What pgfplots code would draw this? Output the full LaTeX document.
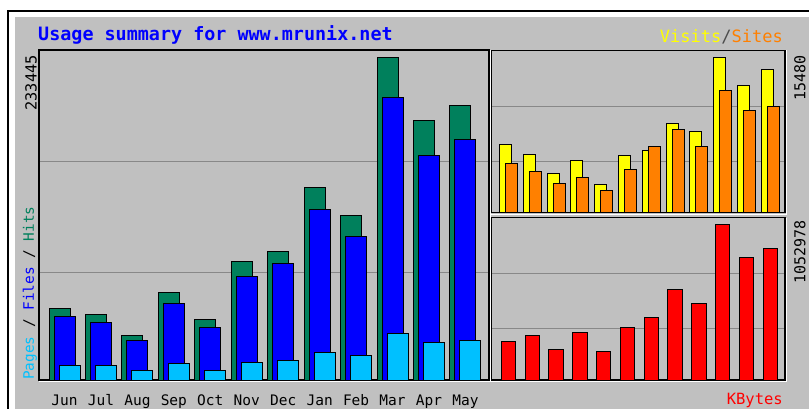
\documentclass[border=0pt]{standalone}
\usepackage{fontspec}
\setmonofont{DejaVu Sans Mono}
\usepackage{pgfplots}
\usepackage{pgfplotstable}
\pgfplotsset{compat=1.18}
\definecolor{hitc}{HTML}{00805C}
\definecolor{filec}{HTML}{0000FF}
\definecolor{pagec}{HTML}{00C0FF}
\definecolor{visitc}{HTML}{FFFF00}
\definecolor{sitec}{HTML}{FF8000}
\definecolor{kbc}{HTML}{FF0000}
\definecolor{bgc}{HTML}{C0C0C0}
\definecolor{gridc}{HTML}{888888}
\definecolor{titlec}{HTML}{0000FF}

\pgfplotstableread{
m hits files pages visits sites kbytes
0 52085 46298 10851 6813 4921 261225
1 47527 41740 10851 5817 4124 303750
2 32553 28936 7234 3925 2859 207225
3 63442 55485 12081 5220 3486 324000
4 43910 38340 7234 2829 2191 195750
5 85577 75016 13021 5678 4253 357750
6 93319 84131 14251 6176 6614 423225
7 139616 123195 20038 8836 8238 614250
8 118854 103663 17579 8039 6614 517725
9 233445 204722 33494 15480 12153 1052978
10 187361 162258 26983 12621 10131 828225
11 198212 173833 28936 14215 10559 891000
}\datatable

\pgfplotsset{
  panel/.style={
    anchor=south west, scale only axis,
    ymin=0,
    ymajorgrids, grid style={gridc, line width=1pt},
    yticklabels={}, major tick length=0,
    scaled y ticks=false, scaled x ticks=false,
    axis line style={black, line width=1.2pt},
    ybar,
    every axis plot/.append style={draw=black, line width=1pt},
    clip=false,
  }
}

\begin{document}
\begin{tikzpicture}
\useasboundingbox (0,0) rectangle (809pt,-409pt);
\fill[white] (0,0) rectangle (809pt,-409pt);
\draw[black, line width=1.2pt] (8pt,-409pt) -- (8pt,-11pt) -- (809pt,-11pt);
\fill[bgc] (15pt,-17pt) rectangle (809pt,-409pt);

% main panel
\begin{axis}[panel,
  at={(39pt,-380pt)},
  width=450pt, height=330pt,
  xmin=-0.6996, xmax=11.646, ymax=238722,
  ytick={77621,157919},
  xtick={0,...,11},
  xticklabels={Jun,Jul,Aug,Sep,Oct,Nov,Dec,Jan,Feb,Mar,Apr,May},
  xticklabel style={font=\ttfamily\fontsize{14.5}{14.5}\selectfont, anchor=base, yshift=-25pt},
  bar width=21pt,
]
\addplot[fill=hitc, bar shift=-5pt] table[x=m,y=hits]{\datatable};
\addplot[fill=filec, bar shift=0pt] table[x=m,y=files]{\datatable};
\addplot[fill=pagec, bar shift=5pt] table[x=m,y=pages]{\datatable};
\end{axis}

% visits / sites panel
\begin{axis}[panel,
  at={(491pt,-212.7pt)},
  width=294pt, height=162pt,
  xmin=-0.735, xmax=11.618, ymax=16135,
  ytick={5080,10627},
  xtick=\empty,
  bar width=12pt,
]
\addplot[fill=visitc, bar shift=-3pt] table[x=m,y=visits]{\datatable};
\addplot[fill=sitec, bar shift=3pt] table[x=m,y=sites]{\datatable};
\end{axis}

% kbytes panel
\begin{axis}[panel,
  at={(491pt,-380pt)},
  width=294pt, height=162.5pt,
  xmin=-0.735, xmax=11.618, ymax=1096875,
  ytick={351000,722250},
  xtick=\empty,
  bar width=14.5pt,
]
\addplot[fill=kbc, bar shift=0pt] table[x=m,y=kbytes]{\datatable};
\end{axis}

% bevel highlights
\draw[white, line width=1pt] (490pt,-50pt) -- (490pt,-381.5pt) -- (39pt,-381.5pt);
\draw[white, line width=1pt] (786pt,-50pt) -- (786pt,-214.5pt) -- (491pt,-214.5pt);
\draw[white, line width=1pt] (786pt,-217.5pt) -- (786pt,-381.5pt) -- (491pt,-381.5pt);

% texts
\node[anchor=base west, inner sep=0pt, text=titlec, font=\ttfamily\bfseries\fontsize{18.4}{18.4}\selectfont] at (38pt,-40.7pt) {Usage summary for www.mrunix.net};
\node[anchor=base east, inner sep=0pt, font=\ttfamily\fontsize{17}{17}\selectfont] at (783pt,-43pt) {\textcolor{visitc}{Visits}\textcolor{black!70}{/}\textcolor{sitec}{Sites}};
\node[rotate=90, anchor=east, inner sep=0pt, font=\ttfamily\fontsize{15.3}{15.3}\selectfont] at (31pt,-55pt) {233445};
\node[rotate=90, anchor=west, inner sep=0pt, font=\ttfamily\fontsize{14.4}{14.4}\selectfont] at (30pt,-380pt) {\textcolor{pagec}{Pages}\ \textcolor{black}{/}\ \textcolor{filec}{Files}\ \textcolor{black}{/}\ \textcolor{hitc}{Hits}};
\node[rotate=90, anchor=east, inner sep=0pt, font=\ttfamily\fontsize{15}{15}\selectfont] at (800pt,-55pt) {15480};
\node[rotate=90, anchor=east, inner sep=0pt, font=\ttfamily\fontsize{15}{15}\selectfont] at (800pt,-220pt) {1052978};
\node[anchor=base east, inner sep=0pt, text=kbc, font=\ttfamily\fontsize{15.5}{15.5}\selectfont] at (783pt,-404pt) {KBytes};
\end{tikzpicture}
\end{document}
